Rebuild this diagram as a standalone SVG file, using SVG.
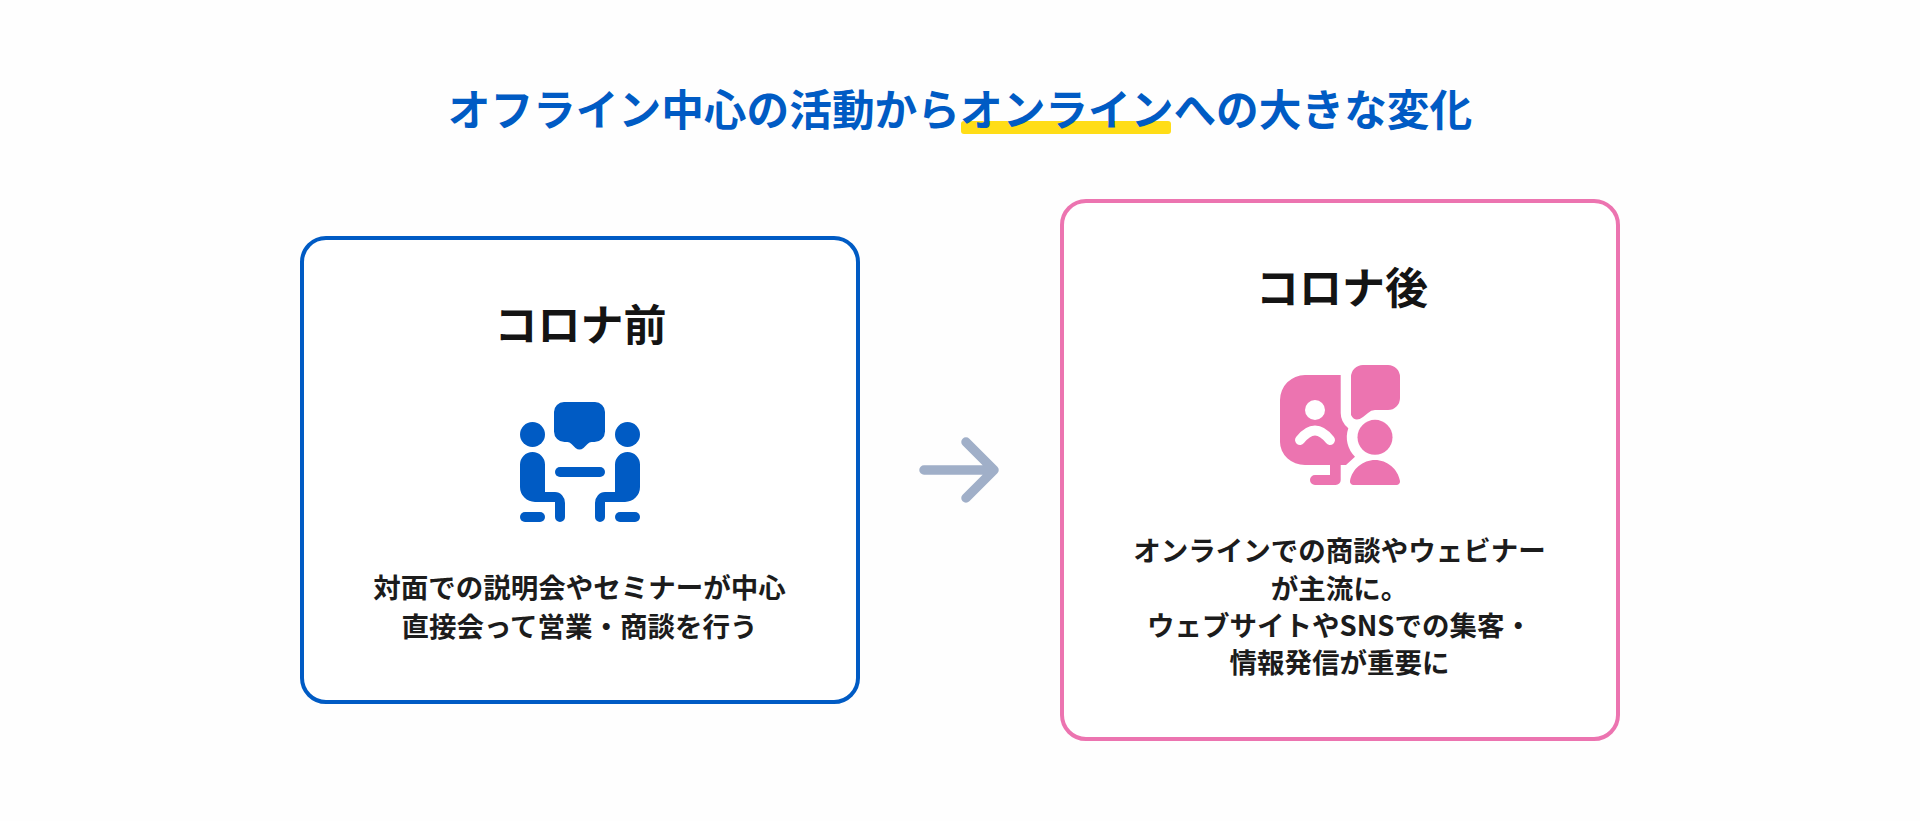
<svg xmlns="http://www.w3.org/2000/svg" width="1920" height="821" viewBox="0 0 1920 821">
<style>
text{font-family:"Noto Sans CJK JP","Noto Sans CJK SC",sans-serif;text-anchor:middle}
.t{font-size:42.700px;font-weight:700;fill:#005BC4}
.h{font-size:43px;font-weight:700;fill:#141414}
.b{font-size:27.500px;font-weight:700;fill:#1c1c1c}
.card{fill:#fff;stroke-width:4}
.blue{fill:#005BC4}
.pink{fill:#EC74B0}
</style>
<rect width="1920" height="821" fill="#fefefe"/>
<g id="title">
<rect x="961" y="121" width="210" height="13" rx="3" fill="#FFDD17"/>
<text class="t" x="960" y="126">オフライン中心の活動からオンラインへの大きな変化</text>
</g>
<g id="before">
<rect class="card" x="302" y="238" width="556" height="464" rx="24" stroke="#005BC4"/>
<text class="h" x="580.500" y="341">コロナ前</text>
<g class="blue">
<circle cx="532.500" cy="434.500" r="12.500"/><circle cx="627.500" cy="434.500" r="12.500"/>
<path d="M565 402h30a10 10 0 0 1 10 10v19.500a10.500 10.500 0 0 1-10.500 10.500h-3q-2 0-4 2l-4 4q-4 3-8 0l-4-4q-2-2-4-2h-3a10.500 10.500 0 0 1-10.500-10.500V412a10 10 0 0 1 10-10z"/>
<rect x="555" y="467" width="50" height="10" rx="5"/>
<path d="M520 464.500a12.500 12.500 0 0 1 25 0V492h10a10 11 0 0 1 10 11v14a5 5 0 0 1-10 0V502h-20a15 15 0 0 1-15-15z"/>
<path d="M640 464.500a12.500 12.500 0 0 0-25 0V492h-10a10 11 0 0 0-10 11v14a5 5 0 0 0 10 0V502h20a15 15 0 0 0 15-15z"/>
<rect x="520" y="512" width="25" height="10" rx="5"/><rect x="615" y="512" width="25" height="10" rx="5"/>
</g>
<text class="b" x="579.500" y="598">対面での説明会やセミナーが中心</text>
<text class="b" x="579.500" y="637">直接会って営業・商談を行う</text>
</g>
<g id="connectors">
<path d="M924 470H994M966 442l28 28-28 28" fill="none" stroke="#A0AFC8" stroke-width="9.500" stroke-linecap="round" stroke-linejoin="round"/>
</g>
<g id="after">
<rect class="card" x="1062" y="201" width="556" height="538" rx="24" stroke="#EC74B0"/>
<text class="h" x="1342" y="304">コロナ後</text>
<g class="pink">
<path d="M1305 375H1340.700V413q0 9 7.600 15.300a27.300 27.300 0 0 0 6.700 28.400L1346 465h-5.300v15a5 5 0 0 1-5 5H1315a5 5 0 0 1 0-10h15V465h-25a25 23 0 0 1-25-23V400a25 25 0 0 1 25-25z"/>
<path d="M1363 365h25a12 12 0 0 1 12 12v21a12 12 0 0 1-12 12h-13q-4 0-7 3l-5 4q-8 6-12-2V377a12 12 0 0 1 12-12z"/>
<circle cx="1375" cy="437.300" r="17.500"/>
<path d="M1353.500 485a3.500 3.500 0 0 1-3.500-4c2-12 13-21 25-21s23 9 25 21a3.500 3.500 0 0 1-3.500 4z"/>
<circle cx="1315" cy="410" r="10" fill="#fff"/>
<path d="M1300 440Q1315 421 1330 440" fill="none" stroke="#fff" stroke-width="10" stroke-linecap="round"/>
</g>
<text class="b" x="1339.500" y="561">オンラインでの商談やウェビナー</text>
<text class="b" x="1339.500" y="599">が主流に。</text>
<text class="b" x="1339.500" y="636">ウェブサイトやSNSでの集客・</text>
<text class="b" x="1339.500" y="673">情報発信が重要に</text>
</g>
</svg>
